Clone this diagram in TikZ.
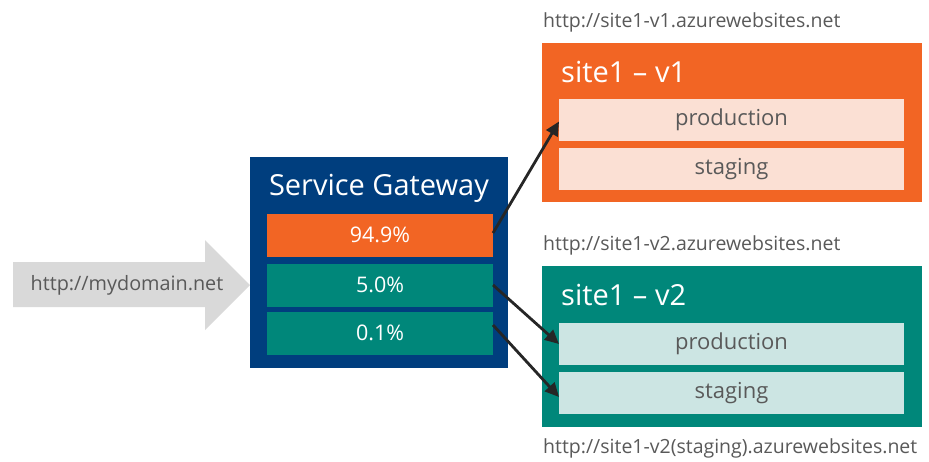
\documentclass[tikz,border=0pt]{standalone}
\usepackage{fontspec}
\setmainfont{Open Sans}
\usetikzlibrary{arrows.meta}
\definecolor{navy}{HTML}{003E7E}
\definecolor{azorange}{HTML}{F26524}
\definecolor{azteal}{HTML}{00877A}
\definecolor{paleorange}{HTML}{FBE0D4}
\definecolor{paleteal}{HTML}{CCE5E3}
\definecolor{greytext}{HTML}{595959}
\definecolor{greyarrow}{HTML}{D9D9D9}
\definecolor{linkline}{HTML}{262626}
\tikzset{
  box/.style={draw=none, inner sep=0pt, outer sep=0pt},
  pct/.style={box, minimum width=226pt, minimum height=43pt, text=white, font=\fontsize{21.5}{24}\selectfont},
  slot/.style={box, minimum width=345pt, minimum height=42pt, text=greytext, font=\fontsize{22}{25}\selectfont},
  url/.style={anchor=west, inner sep=0pt, text=greytext, font=\fontsize{19.5}{22}\selectfont},
  title/.style={inner sep=0pt, text=white, font=\fontsize{29}{32}\selectfont},
  link/.style={draw=linkline, line width=2.8pt, -{Triangle[length=14pt,width=13pt]}},
}
\begin{document}
\begin{tikzpicture}[x=1pt, y=-1pt]
\useasboundingbox (0,0) rectangle (929,461);

% incoming request arrow
\fill[greyarrow] (13,262) -- (205,262) -- (205,240) -- (250,285) -- (205,330) -- (205,307) -- (13,307) -- cycle;
\node[inner sep=0pt, text=greytext, font=\fontsize{19.8}{22}\selectfont] (req) at (127,285) {http://mydomain.net};

% gateway with its traffic split
\node[box, fill=navy, minimum width=258pt, minimum height=211pt] (gw) at (379,262.5) {};
\node[title] (gwt) at (379,188) {Service Gateway};
\node[pct, fill=azorange] (r1) at (380,235) {94.9\%};
\node[pct, fill=azteal] (r2) at (380,285) {5.0\%};
\node[pct, fill=azteal] (r3) at (380,333) {0.1\%};

% site version 1
\node[url] (u1) at (543,22) {http://site1-v1.azurewebsites.net};
\node[box, fill=azorange, minimum width=380pt, minimum height=159pt] (v1) at (732,122.5) {};
\node[title, anchor=west] (v1t) at (561,72) {site1 – v1};
\node[slot, fill=paleorange] (p1) at (731.5,119.5) {production};
\node[slot, fill=paleorange] (s1) at (731.5,169) {staging};

% site version 2
\node[url] (u2) at (543,245) {http://site1-v2.azurewebsites.net};
\node[box, fill=azteal, minimum width=380pt, minimum height=161pt] (v2) at (732,346.5) {};
\node[title, anchor=west] (v2t) at (561,295) {site1 – v2};
\node[slot, fill=paleteal] (p2) at (731.5,344) {production};
\node[slot, fill=paleteal] (s2) at (731.5,393) {staging};
\node[url] (u3) at (543,448) {http://site1-v2(staging).azurewebsites.net};

% routing
\draw[link] ([yshift=2pt]r1.east) -- ([yshift=-2pt]p1.west);
\draw[link] (r2.east) -- (p2.west);
\draw[link] ([yshift=8pt]r3.east) -- ([yshift=-4pt]s2.west);
\end{tikzpicture}
\end{document}
